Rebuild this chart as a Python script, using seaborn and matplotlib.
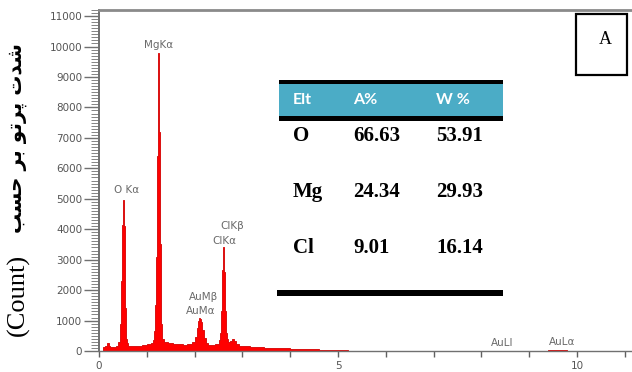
import numpy as np
import pandas as pd
import seaborn as sns
import matplotlib
matplotlib.use("Agg")
import matplotlib.pyplot as plt
from matplotlib.patches import Rectangle
from matplotlib.ticker import MultipleLocator, FixedLocator

# ---------------- data ----------------
bin_edges_kev = [0.00, 0.08, 0.12, 0.16, 0.20, 0.24, 0.30, 0.36, 0.40, 0.44,
                 0.46, 0.48, 0.50, 0.52, 0.54, 0.56, 0.58, 0.60, 0.70, 0.80,
                 0.90, 1.00, 1.08, 1.14, 1.16, 1.18, 1.20, 1.22, 1.24, 1.26,
                 1.28, 1.30, 1.32, 1.36, 1.45, 1.55, 1.65, 1.75, 1.85, 1.95,
                 2.00, 2.04, 2.08, 2.10, 2.12, 2.14, 2.16, 2.20, 2.24, 2.28,
                 2.34, 2.42, 2.50, 2.54, 2.56, 2.58, 2.60, 2.62, 2.64, 2.66,
                 2.68, 2.70, 2.74, 2.78, 2.82, 2.86, 2.92, 3.00, 3.15, 3.30,
                 3.45, 3.60, 3.80, 4.00, 4.20, 4.40, 4.60, 4.80, 5.00, 5.20,
                 5.60, 6.00, 6.40, 7.00, 7.60, 8.20, 8.80, 9.40, 9.60, 9.80,
                 10.20, 11.00]
counts = [0, 120, 180, 260, 160, 130, 120, 150, 300,
          900, 2300, 4150, 4950, 4100, 1400, 400, 250, 170, 160,
          180, 200, 220, 260, 350, 650, 1500, 3100, 6400, 9800,
          7200, 3500, 900, 400, 290, 260, 240, 230, 210, 220,
          280, 450, 750, 1000, 1080, 1050, 950, 700, 420, 260,
          200, 190, 220, 350, 600, 1300, 2660, 3420, 2600, 1300,
          600, 380, 300, 330, 400, 330, 230, 180, 150, 130,
          140, 110, 100, 90, 70, 60, 50, 45, 40, 30,
          15, 10, 10, 15, 15, 15, 15, 15, 20, 40,
          15, 10]

peak_labels = ["MgK\u03b1", "O K\u03b1", "ClK\u03b2", "ClK\u03b1",
               "AuM\u03b2", "AuM\u03b1", "AuLl", "AuL\u03b1"]
peak_label_x = [1.24, 0.57, 2.78, 2.63, 2.18, 2.12, 8.43, 9.68]
peak_label_y = [10050, 5290, 4105, 3610, 1770, 1310, 260, 295]

x_tick_values = [0, 5, 10]
y_tick_values = list(range(0, 11001, 1000))

table_header = ["Elt", "A%", "W %"]
elements = ["O", "Mg", "Cl"]
atomic_pct = ["66.63", "24.34", "9.01"]
weight_pct = ["53.91", "29.93", "16.14"]
panel_letter = "A"

# y label "شدت پرتو بر حسب (Count)"; Persian part in visual (shaped) order
ylabel_unit = "(Count)"
ylabel_persian = ("\uFE90\uFEB4\uFEA3 "
                  "\uFEAE\uFE91 "
                  "\uFEEE\uFE97\uFEAE\uFB58 "
                  "\uFE95\uFEAA\uFEB7")

# ---------------- figure ----------------
sns.set_theme(style="ticks")
plt.rcParams["font.family"] = ["DejaVu Sans"]

W, H = 632, 372
fig = plt.figure(figsize=(W / 100, H / 100), dpi=100)
fig.patch.set_facecolor("white")
ax = fig.add_axes([99 / W, 21 / H, 533 / W, 341 / H])

centers = [(a + b) / 2 for a, b in zip(bin_edges_kev[:-1], bin_edges_kev[1:])]
df = pd.DataFrame({"energy": centers, "counts": counts})
sns.histplot(data=df, x="energy", weights="counts", bins=bin_edges_kev,
             stat="count", element="step", fill=True, color="#ff0000",
             alpha=1.0, linewidth=0.6, edgecolor="#d40000", ax=ax)

ax.set_xlim(0, 11.15)
ax.set_ylim(0, 11200)
ax.set_xlabel("")
ax.set_ylabel("")

ax.spines["right"].set_visible(False)
ax.spines["top"].set_color("#8a8a8a")
ax.spines["top"].set_linewidth(2.0)
ax.spines["left"].set_color("#707070")
ax.spines["left"].set_linewidth(1.4)
ax.spines["bottom"].set_color("#707070")
ax.spines["bottom"].set_linewidth(1.0)

ax.xaxis.set_major_locator(FixedLocator(x_tick_values))
ax.xaxis.set_minor_locator(MultipleLocator(1))
ax.yaxis.set_major_locator(FixedLocator(y_tick_values))
ax.yaxis.set_minor_locator(MultipleLocator(100))
ax.set_yticklabels([str(v) for v in y_tick_values])
ax.set_xticklabels([str(v) for v in x_tick_values])

ax.tick_params(axis="y", which="major", length=11, width=1.0, color="#707070",
               labelsize=7.5, labelcolor="#555555", pad=1, direction="out")
ax.tick_params(axis="y", which="minor", length=6, width=0.6, color="#707070",
               direction="out")
ax.tick_params(axis="x", which="major", length=4, width=1.0, color="#606060",
               labelsize=7.5, labelcolor="#555555", pad=3, direction="out")
ax.tick_params(axis="x", which="minor", length=4, width=1.0, color="#606060",
               direction="out")

for lab, xv, yv in zip(peak_labels, peak_label_x, peak_label_y):
    ax.text(xv, yv, lab, ha="center", va="center", fontsize=7.5,
            color="#6a6a6a")

fig.text(18 / W, 1 - 295 / H, ylabel_unit, rotation=90, ha="center",
         va="center", fontsize=19, family="Liberation Serif", color="black")
fig.text(18 / W, 1 - 138 / H, ylabel_persian, rotation=90, ha="center",
         va="center", fontsize=14.5, fontweight="bold", family="DejaVu Sans",
         color="black")


# ---------------- table (figure pixel layout) ----------------
def fx(px):
    return px / W


def fy(py):
    return 1 - py / H


def band(x0, x1, y0, y1, color):
    fig.add_artist(Rectangle((fx(x0), fy(y1)), (x1 - x0) / W, (y1 - y0) / H,
                             transform=fig.transFigure, facecolor=color,
                             edgecolor="none", zorder=5))


band(279, 503, 80, 84, "black")
band(279, 503, 84, 116, "#4bacc6")
band(279, 503, 116, 121, "black")
band(277, 503, 290, 296, "black")

col_x = [293, 353, 436]
for cx, h in zip(col_x, table_header):
    fig.text(fx(cx), fy(100), h, ha="left", va="center", fontsize=11.5,
             color="white", fontweight="bold", family="Lato", zorder=6)

row_y = [136, 192, 248]
for ry, el, a, w in zip(row_y, elements, atomic_pct, weight_pct):
    for cx, t in zip(col_x, [el, a, w]):
        fig.text(fx(cx), fy(ry), t, ha="left", va="center", fontsize=15,
                 color="black", fontweight="bold", family="Liberation Serif",
                 zorder=6)

# panel letter box
fig.add_artist(Rectangle((fx(576), fy(75)), 51 / W, 61 / H,
                         transform=fig.transFigure, facecolor="white",
                         edgecolor="black", linewidth=1.6, zorder=5))
fig.text(fx(605), fy(40), panel_letter, ha="center", va="center",
         fontsize=13, family="Liberation Serif", color="black", zorder=6)

fig.savefig("out.png", dpi=100)
